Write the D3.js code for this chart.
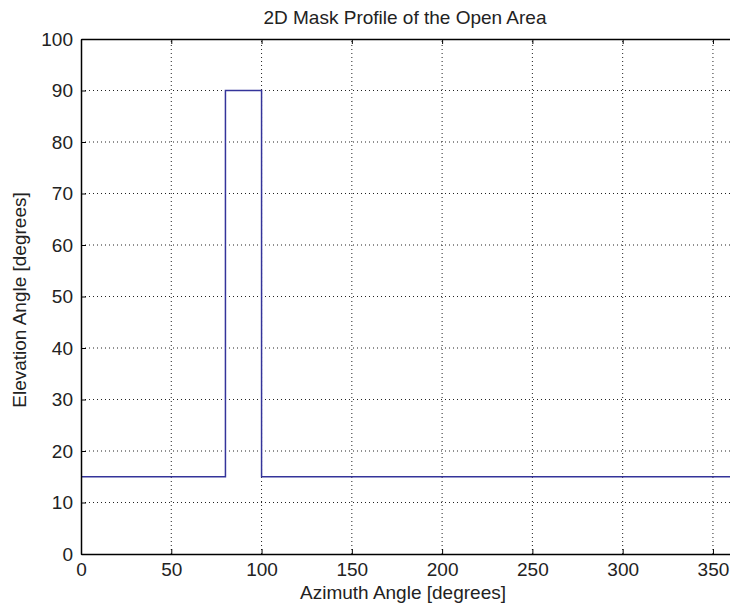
<!DOCTYPE html>
<html>
<head>
<meta charset="utf-8">
<script src="https://cdn.jsdelivr.net/npm/d3@7"></script>
<style>
  body { margin: 0; background: #fff; }
  svg { display: block; font-family: "Liberation Sans", Arial, sans-serif; }
</style>
</head>
<body>
<div id="chart"></div>
<script>
// step profile of the mask (azimuth, elevation)
const azimuth = [0, 80, 80, 100, 100, 360];
const elevation = [15, 15, 90, 90, 15, 15];
const xTicks = [0, 50, 100, 150, 200, 250, 300, 350];
const yTicks = [0, 10, 20, 30, 40, 50, 60, 70, 80, 90, 100];

const width = 730, height = 610;
const margin = { top: 39, left: 81, bottom: 56, right: -1 };
const fontSize = 19;

const svg = d3.select('#chart')
    .append('svg')
    .attr('width', width)
    .attr('height', height);

const x = d3.scaleLinear()
    .domain([0, 360])
    .range([margin.left, width - margin.right]);
const y = d3.scaleLinear()
    .domain([0, 100])
    .range([height - margin.bottom, margin.top]);

// dotted grid
svg.append('g')
    .selectAll('line')
    .data(xTicks.filter((d) => d > 0))
    .enter()
    .append('line')
    .attr('x1', (d) => x(d)).attr('x2', (d) => x(d))
    .attr('y1', y(0)).attr('y2', y(100))
    .attr('stroke', '#222')
    .attr('stroke-width', 1)
    .attr('stroke-dasharray', '1,3');
svg.append('g')
    .selectAll('line')
    .data(yTicks.filter((d) => d > 0 && d < 100))
    .enter()
    .append('line')
    .attr('y1', (d) => y(d)).attr('y2', (d) => y(d))
    .attr('x1', x(0)).attr('x2', x(360))
    .attr('stroke', '#222')
    .attr('stroke-width', 1)
    .attr('stroke-dasharray', '1,3');

// profile line
const line = d3.line()
    .x((d) => x(d[0]))
    .y((d) => y(d[1]));
svg.append('path')
    .datum(azimuth.map((a, i) => [a, elevation[i]]))
    .attr('d', line)
    .attr('fill', 'none')
    .attr('stroke', '#34349a')
    .attr('stroke-width', 1.5);

// axes with inward ticks
const axisStyle = (g) => {
    g.select('.domain').attr('stroke', '#000').attr('stroke-width', 1.5);
    g.selectAll('.tick line').attr('stroke', '#000');
    g.selectAll('.tick text')
        .attr('font-size', fontSize)
        .attr('fill', '#222')
        .attr('font-family', '"Liberation Sans", Arial, sans-serif');
};

svg.append('g')
    .attr('transform', `translate(0,${y(0)})`)
    .call(d3.axisBottom(x).tickValues(xTicks).tickSizeInner(-5).tickSizeOuter(0).tickPadding(9))
    .call(axisStyle);
svg.append('g')
    .attr('transform', `translate(0,${y(100)})`)
    .call(d3.axisTop(x).tickValues(xTicks).tickSizeInner(-5).tickSizeOuter(0).tickFormat(''))
    .call(axisStyle);
svg.append('g')
    .attr('transform', `translate(${x(0)},0)`)
    .call(d3.axisLeft(y).tickValues(yTicks).tickSizeInner(-5).tickSizeOuter(0).tickPadding(8))
    .call(axisStyle);

// titles
svg.append('text')
    .attr('x', 405)
    .attr('y', 24)
    .attr('text-anchor', 'middle')
    .attr('font-size', fontSize)
    .attr('fill', '#222')
    .text('2D Mask Profile of the Open Area');
svg.append('text')
    .attr('x', 403)
    .attr('y', 599)
    .attr('text-anchor', 'middle')
    .attr('font-size', fontSize)
    .attr('fill', '#222')
    .text('Azimuth Angle [degrees]');
svg.append('text')
    .attr('transform', 'translate(26,300) rotate(-90)')
    .attr('text-anchor', 'middle')
    .attr('font-size', fontSize)
    .attr('fill', '#222')
    .text('Elevation Angle [degrees]');
</script>
</body>
</html>
